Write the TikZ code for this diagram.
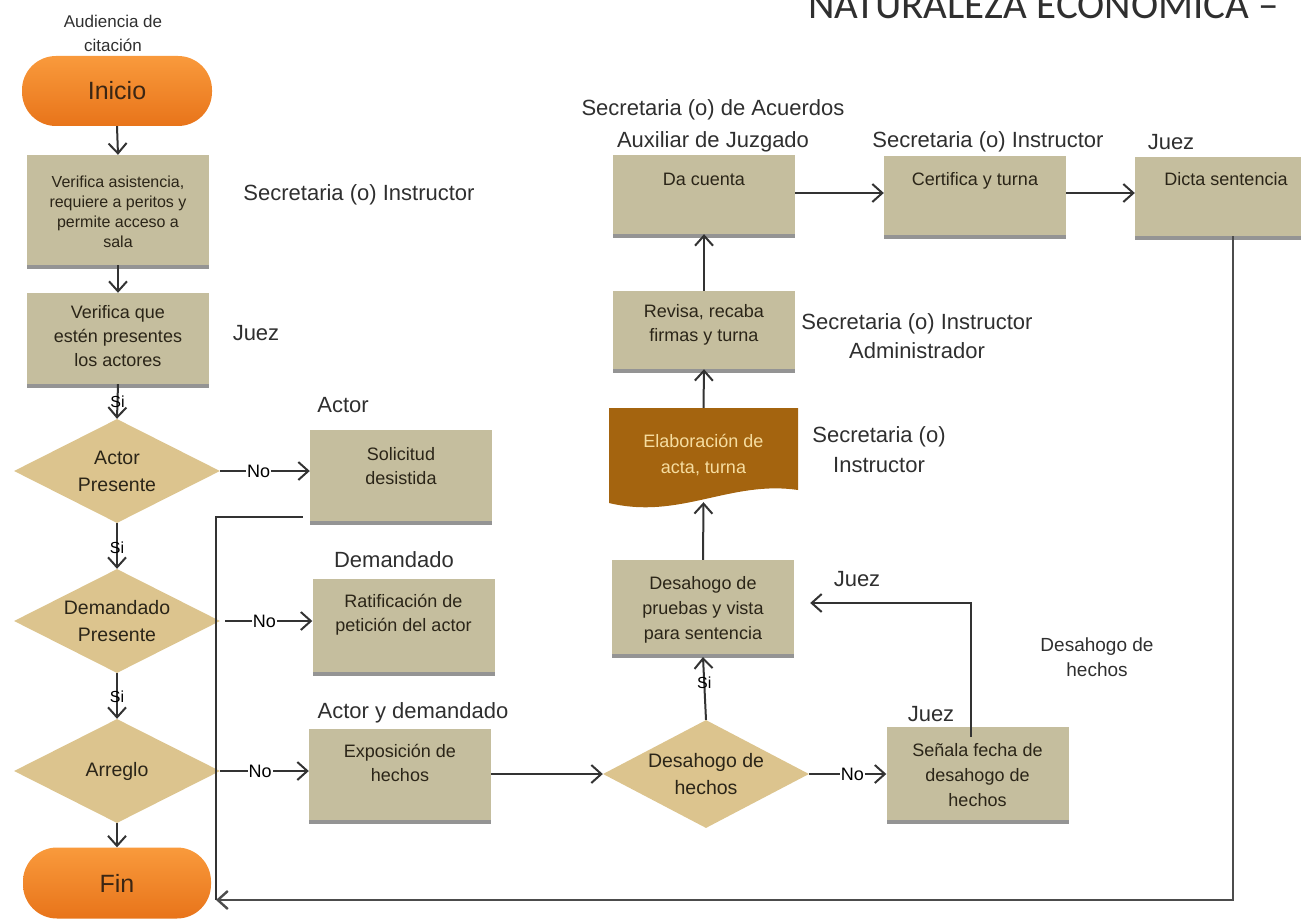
\documentclass[tikz,border=0pt]{standalone}
\usepackage{fontspec}
\setmainfont{Liberation Sans}
\newfontfamily\carlito{Carlito}
\usetikzlibrary{shapes.geometric,arrows.meta,shadows,calc}
\definecolor{boxc}{HTML}{C5BE9E}
\definecolor{diac}{HTML}{DCC48E}
\definecolor{pilltop}{HTML}{F99A3C}
\definecolor{pillbot}{HTML}{E8741A}
\definecolor{pilltxt}{HTML}{3B2614}
\definecolor{docc}{HTML}{A4640F}
\definecolor{doctxt}{HTML}{F6DDA0}
\definecolor{txt}{HTML}{2B2518}
\definecolor{labc}{HTML}{2F2F2F}
\definecolor{linec}{HTML}{333333}
\newcommand{\myfs}[2]{\fontsize{#1}{#2}\selectfont}
\newcommand{\bx}[4]{\parbox[c][#1][t]{176pt}{#3\centering\vspace*{#2}\strut #4}}
\tikzset{
  box/.style={rectangle, fill=boxc, inner sep=0, minimum width=182, text=txt,
    drop shadow={shadow xshift=0pt, shadow yshift=-4pt, fill=black!42, opacity=1}},
  dia/.style={diamond, aspect=2, fill=diac, inner sep=0, minimum width=206, minimum height=104,
    align=center, font=\myfs{19.5}{27}, text=txt},
  pill/.style={rectangle, rounded corners=34pt, minimum width=190, minimum height=70,
    top color=pilltop, bottom color=pillbot, inner sep=0, font=\myfs{25}{25}, text=pilltxt},
  lab/.style={font=\myfs{22}{29}, text=labc, align=center, inner sep=0},
  conn/.style={draw=linec, line width=2pt},
  arr/.style={conn, -{Straight Barb[length=10pt,width=18pt]}},
  silab/.style={font=\myfs{16}{16}, text=black, inner sep=0},
  nolab/.style={font=\myfs{18}{18}, text=black, fill=white, inner sep=1pt}
}
\begin{document}
\begin{tikzpicture}[x=1pt,y=-1pt]
\useasboundingbox (0,0) rectangle (1301,920);
\clip (0,0) rectangle (1301,920);

% title
\node[anchor=base west, inner sep=0, font=\carlito\myfs{41}{41}, text=labc] (title) at (808,19) {NATURALEZA ECONÓMICA –};

% left column
\node[pill] (ini) at (117,91) {Inicio};
\node[box] (b1) at (118,210) {\bx{110pt}{18.3pt}{\myfs{16}{20}}{Verifica asistencia,\\requiere a peritos y\\permite acceso a\\sala}};
\node[box] (b2) at (118,338.5) {\bx{91pt}{9.1pt}{\myfs{18}{24}}{Verifica que\\estén presentes\\los actores}};
\node[dia] (d1) at (117,471) {Actor\\Presente};
\node[dia] (d2) at (117,621) {Demandado\\Presente};
\node[dia] (d3) at (117,771) {Arreglo};
\node[pill, minimum width=188, minimum height=71] (fin) at (117,883) {Fin};

% middle column
\node[box] (sol) at (401,475.5) {\bx{91pt}{14.1pt}{\myfs{18}{24}}{Solicitud\\desistida}};
\node[box] (rat) at (403.5,625.5) {\bx{93pt}{12.1pt}{\myfs{18}{24}}{Ratificación de\\petición del actor}};
\node[box] (expo) at (400,774.5) {\bx{91pt}{12.1pt}{\myfs{18}{24}}{Exposición de\\hechos}};

% right part
\node[box] (dac) at (704,194.5) {\bx{79pt}{14.1pt}{\myfs{18}{24}}{Da cuenta}};
\node[box] (cert) at (975,195.5) {\bx{79pt}{13.1pt}{\myfs{18}{24}}{Certifica y turna}};
\node[box] (dicta) at (1226,196.5) {\bx{79pt}{12.1pt}{\myfs{18}{24}}{Dicta sentencia}};
\node[box] (rev) at (704,330) {\bx{78pt}{10.1pt}{\myfs{18}{24}}{Revisa, recaba\\firmas y turna}};
\fill[docc] (609,408) -- (798,408) -- (798,490) .. controls (730,480) and (680,520) .. (609,503) -- cycle;
\node[inner sep=0, minimum width=189, minimum height=94, text=doctxt, font=\myfs{18}{26}, align=center] (elab) at (703.5,455) {\raisebox{9pt}{\parbox{176pt}{\centering Elaboración de\\acta, turna}}};
\node[box] (desp) at (703,607) {\bx{94pt}{12.1pt}{\myfs{18}{25}}{Desahogo de\\pruebas y vista\\para sentencia}};
\node[dia, minimum height=108] (d4) at (706,774) {Desahogo de\\hechos};
\node[box] (sen) at (977.5,773.5) {\bx{93pt}{12.1pt}{\myfs{18}{25}}{Señala fecha de\\desahogo de\\hechos}};

% labels
\node[lab, font=\myfs{17}{24}] (la1) at (113,33) {Audiencia de\\citación};
\node[lab] (la2) at (359,195) {Secretaria (o) Instructor};
\node[lab] (la3) at (256,333) {Juez};
\node[lab] (la4) at (343,405) {Actor};
\node[lab] (la5) at (394,560) {Demandado};
\node[lab] (la6) at (413,713) {Actor y demandado};
\node[lab] (la7) at (713,110) {Secretaria (o) de Acuerdos};
\node[lab] (la8) at (713,142) {Auxiliar de Juzgado};
\node[lab] (la9) at (988,142) {Secretaria (o) Instructor};
\node[lab] (la10) at (1171,142) {Juez};
\node[lab] (la11) at (917,336.5) {Secretaria (o) Instructor\\Administrador};
\node[lab, font=\myfs{22}{30}] (la12) at (879,450) {Secretaria (o)\\Instructor};
\node[lab] (la13) at (857,579) {Juez};
\node[lab, font=\myfs{19}{25}] (la14) at (1097,657.5) {Desahogo de\\hechos};
\node[lab] (la15) at (931,714) {Juez};

% connectors left column
\draw[arr] (ini.south) -- (b1.north);
\draw[arr] (b1.south) -- (b2.north);
\draw[arr] (b2.south) -- node[silab, pos=0.5] {Si} (d1.north);
\draw[arr] (d1.south) -- node[silab, pos=0.54] {Si} (d2.north);
\draw[arr] (d2.south) -- node[silab, pos=0.52] {Si} (d3.north);
\draw[arr] (d3.south) -- (fin.north);

% No branches
\draw[arr] (d1.east) -- node[nolab, pos=0.43] {No} (sol.west |- d1.east);
\draw[arr] ([xshift=5pt]d2.east) -- node[nolab, pos=0.45] {No} (rat.west |- d2.east);
\draw[arr] (d3.east) -- node[nolab, pos=0.45] {No} (expo.west |- d3.east);
\draw[arr] (expo.east |- d4.west) -- (d4.west);
\draw[arr] (d4.east) -- node[nolab, pos=0.56] {No} (sen.west |- d4.east);

% up the middle
\draw[arr] (d4.north) -- node[silab, pos=0.59] {Si} (desp.south |- 0,657);
\draw[arr] (desp.north) -- (elab.south);
\draw[arr] (elab.north) -- (rev.south);
\draw[arr] (rev.north) -- (dac.south);
\draw[arr] (dac.east |- 0,193) -- (cert.west |- 0,193);
\draw[arr] (cert.east |- 0,193) -- (dicta.west |- 0,193);
\draw[arr] ([xshift=-6.5pt,yshift=-10pt]sen.north) |- ([xshift=16pt,yshift=4pt]desp.east);

% return to Fin
\coordinate (corner) at (216,900);
\draw[conn] ([xshift=-7pt,yshift=4pt]sol.south west) -| (corner);
\draw[arr, line width=2.4pt, draw=black!70] ([xshift=7pt]dicta.south) |- (corner);
\end{tikzpicture}
\end{document}
